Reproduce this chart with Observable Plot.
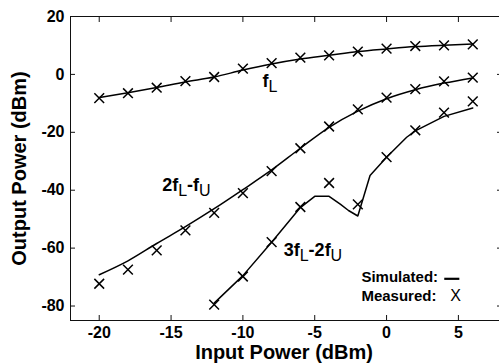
<!DOCTYPE html>
<html><head><meta charset="utf-8">
<script src="https://cdn.jsdelivr.net/npm/d3@7"></script>
<script src="https://cdn.jsdelivr.net/npm/@observablehq/plot@0.6"></script>
<style>
html,body{margin:0;padding:0;background:#fff;overflow:hidden;}
svg{display:block;}
</style></head><body>
<div id="chart"></div>
<script>
// Input power (dBm) at which the tones were measured
const inputPower = [-20,-18,-16,-14,-12,-10,-8,-6,-4,-2,0,2,4,6];
// Fundamental fL
const fLMeasured  = [-8.2,-6.5,-4.6,-2.3,-0.9,2.0,3.9,5.8,6.6,7.9,8.9,9.8,10.0,10.4];
const fLSimulated = [-8.0,-6.3,-4.5,-2.6,-0.9,1.5,3.6,5.3,6.6,7.9,8.8,9.6,10.1,10.5];
// 2fL-fU
const imd3Measured  = [-72.3,-67.4,-60.8,-53.9,-47.8,-41.0,-33.4,-25.5,-18.0,-12.1,-8.0,-5.1,-2.4,-1.1];
const imd3Simulated = [-69.2,-64.4,-58.4,-52.6,-46.4,-39.8,-33.0,-25.5,-18.3,-12.7,-8.4,-5.3,-3.0,-1.2];
// 3fL-2fU
const imd5Input    = [-12,-10,-8,-6,-4,-2,0,2,4,6];
const imd5Measured = [-79.5,-69.8,-57.9,-45.8,-37.5,-44.9,-28.6,-19.3,-13.2,-9.3];
const imd5SimInput  = [-12,-10,-8,-6,-5,-4,-3.2,-2.65,-2,-1.15,0,1.4,2,4,6];
const imd5Simulated = [-79,-69.5,-58,-46,-42.1,-42.1,-44.9,-47,-48.9,-34.9,-28.6,-21.7,-19.5,-14.5,-11.6];
// Ticks and texts
const xTicks = [-20,-15,-10,-5,0,5];
const yTicks = [-80,-60,-40,-20,0,20];
const seriesLabels = ["f{L}","2f{L}-f{U}","3f{L}-2f{U}"];
const legendLabels = ["Simulated:","Measured:"];
const legendMarker = ["X"];
const xTitle = "Input Power (dBm)";
const yTitle = "Output Power (dBm)";

const rows = (xs, ys) => xs.map((x, i) => ({x, y: ys[i]}));
const fmt = d => String(d);
const font = "'Liberation Sans', Arial, Helvetica, sans-serif";

const plot = Plot.plot({
  width: 499, height: 364,
  marginLeft: 70, marginTop: 16, marginBottom: 44, marginRight: -2,
  x: {domain: [-22, 8]},
  y: {domain: [-85, 20]},
  style: {fontFamily: font, color: "#000", background: "#fff"},
  marks: [
    Plot.frame({stroke: "#111", strokeWidth: 1}),
    // tick labels
    Plot.axisX({ticks: xTicks, tickSize: 0, tickPadding: 6, tickFormat: fmt, fontSize: 16, fontWeight: "bold", label: null}),
    Plot.axisY({ticks: yTicks, tickSize: 0, tickPadding: 6, tickFormat: fmt, fontSize: 16, fontWeight: "bold", label: null}),
    // inward ticks on all four sides
    Plot.axisX({ticks: xTicks, anchor: "bottom", tickSize: -5, tickFormat: () => "", label: null, stroke: "#111"}),
    Plot.axisX({ticks: xTicks, anchor: "top", tickSize: -5, tickFormat: () => "", label: null, stroke: "#111"}),
    Plot.axisY({ticks: yTicks, anchor: "left", tickSize: -5, tickFormat: () => "", label: null, stroke: "#111"}),
    Plot.axisY({ticks: yTicks, anchor: "right", tickSize: -5, tickFormat: () => "", label: null, stroke: "#111"}),
    // axis titles
    Plot.text([xTitle], {frameAnchor: "bottom", dy: 32, dx: -2, fontSize: 20, fontWeight: "bold", textAnchor: "middle", lineAnchor: "middle"}),
    Plot.text([yTitle], {frameAnchor: "left", dx: -51, rotate: -90, fontSize: 20, fontWeight: "bold", textAnchor: "middle", lineAnchor: "middle"}),
    // simulated lines
    Plot.line(rows(inputPower, fLSimulated), {x: "x", y: "y", stroke: "#000", strokeWidth: 1.5, curve: "monotone-x"}),
    Plot.line(rows(inputPower, imd3Simulated), {x: "x", y: "y", stroke: "#000", strokeWidth: 1.5, curve: "monotone-x"}),
    Plot.line(rows(imd5SimInput, imd5Simulated), {x: "x", y: "y", stroke: "#000", strokeWidth: 1.5, curve: "linear"}),
    // measured points
    Plot.dot(rows(inputPower, fLMeasured), {x: "x", y: "y", symbol: "times", r: 4.5, stroke: "#000", strokeWidth: 1.5}),
    Plot.dot(rows(inputPower, imd3Measured), {x: "x", y: "y", symbol: "times", r: 4.5, stroke: "#000", strokeWidth: 1.5}),
    Plot.dot(rows(imd5Input, imd5Measured), {x: "x", y: "y", symbol: "times", r: 4.5, stroke: "#000", strokeWidth: 1.5}),
    // series labels
    Plot.text(seriesLabels, {x: [-8.64, -15.62, -7.16], y: [-2.2, -38.4, -60.9], text: d => d, textAnchor: "start", lineAnchor: "middle", fontSize: 18, fontWeight: "bold"}),
    // legend
    Plot.text(legendLabels, {x: [-1.75, -1.75], y: [-70.1, -76.7], text: d => d, textAnchor: "start", lineAnchor: "middle", fontSize: 15, fontWeight: "bold"}),
    Plot.text(legendMarker, {x: [4.44], y: [-76.6], text: d => d, textAnchor: "start", lineAnchor: "middle", fontSize: 16}),
    Plot.ruleY([-70.6], {x1: 4.05, x2: 5.1, stroke: "#000", strokeWidth: 2.2})
  ]
});

// turn {X} into subscripts
d3.select(plot).selectAll("text").each(function () {
  const s = this.textContent;
  if (!s.includes("{")) return;
  const parts = s.split(/(\{[^}]*\})/).filter(p => p.length);
  const el = d3.select(this);
  el.text(null);
  let shifted = false;
  parts.forEach(p => {
    const isSub = p.startsWith("{");
    const t = el.append("tspan").text(isSub ? p.slice(1, -1) : p);
    if (isSub) {
      t.attr("dy", 5).attr("font-size", 16).attr("font-weight", "normal");
      shifted = true;
    } else if (shifted) {
      t.attr("dy", -5);
      shifted = false;
    }
  });
});

document.getElementById("chart").appendChild(plot);
</script>
</body></html>
